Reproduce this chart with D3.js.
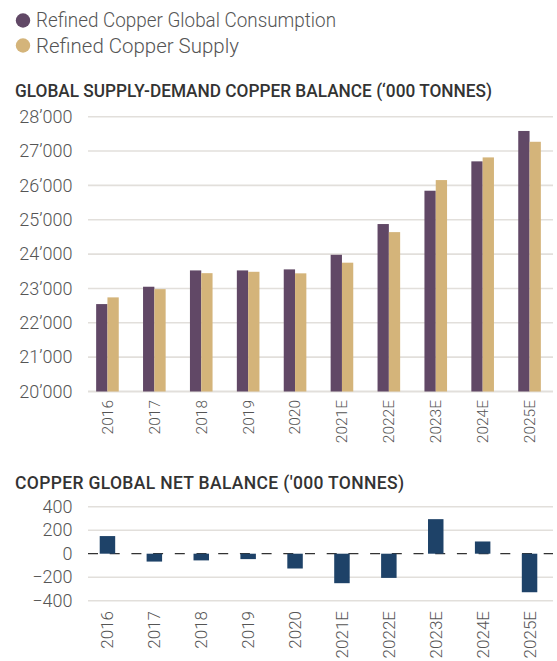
<!DOCTYPE html>
<html>
<head>
<meta charset="utf-8">
<script src="https://cdn.jsdelivr.net/npm/d3@7"></script>
<style>
  html, body { margin: 0; padding: 0; background: #ffffff; }
  svg { display: block; font-family: Roboto, "Noto Sans", sans-serif; }
</style>
</head>
<body>
<svg id="chart" width="557" height="661"></svg>
<script>
// ---- data ----
const categories = ["2016","2017","2018","2019","2020","2021E","2022E","2023E","2024E","2025E"];
const consumption = [22545, 23050, 23525, 23525, 23555, 23980, 24875, 25845, 26700, 27585];
const supply      = [22740, 22980, 23445, 23485, 23440, 23750, 24640, 26155, 26815, 27270];
const netBalance  = [150, -67, -57, -46, -126, -251, -206, 294, 104, -328];
const seriesNames = ["Refined Copper Global Consumption", "Refined Copper Supply"];
const topTicks = [20000, 21000, 22000, 23000, 24000, 25000, 26000, 27000, 28000];
const bottomTicks = [-400, -200, 0, 200, 400];
const topTitle = "GLOBAL SUPPLY-DEMAND COPPER BALANCE (\u2018000 TONNES)";
const bottomTitle = "COPPER GLOBAL NET BALANCE ('000 TONNES)";

// ---- styles ----
const colCons = "#614866", colSup = "#d4b47a", colNet = "#1e4268";
const gridCol = "#e2dfdb", labelCol = "#555555", titleCol = "#333333";

const svg = d3.select("#chart");

// ---- legend ----
const legend = svg.append("g");
[colCons, colSup].forEach((c, i) => {
  legend.append("circle").attr("cx", 23).attr("cy", 20.5 + i * 25).attr("r", 7.2).attr("fill", c);
  legend.append("text").attr("x", 36).attr("y", 27.3 + i * 25.5)
    .attr("font-size", 19.5).attr("fill", labelCol).attr("font-weight", 300)
    .attr("textLength", i === 0 ? 300 : 203).attr("lengthAdjust", "spacingAndGlyphs")
    .text(seriesNames[i]);
});

// ---- titles ----
svg.append("text").attr("x", 15).attr("y", 96.7).attr("font-size", 17.5).attr("font-weight", 500)
  .attr("fill", titleCol).attr("textLength", 477).attr("lengthAdjust", "spacingAndGlyphs").text(topTitle);
svg.append("text").attr("x", 15).attr("y", 488.5).attr("font-size", 17.5).attr("font-weight", 500)
  .attr("fill", titleCol).attr("textLength", 389).attr("lengthAdjust", "spacing").text(bottomTitle);

const fmt = v => d3.format(",")(v).replace(/,/g, "\u2019");
const gridX0 = 88, gridX1 = 553;

// ---- top chart ----
const x = d3.scaleBand().domain(categories).range([84, 553]).paddingInner(0.518).paddingOuter(0.259);
const xs = d3.scaleBand().domain([0, 1]).range([0, x.bandwidth()]);
const y = d3.scaleLinear().domain([20000, 28000]).range([391.5, 116.7]);

svg.append("g").selectAll("line").data(topTicks).join("line")
  .attr("x1", gridX0).attr("x2", gridX1)
  .attr("y1", d => y(d)).attr("y2", d => y(d))
  .attr("stroke", gridCol).attr("stroke-width", d => d === 20000 ? 2 : 1.6);

const yAxis = svg.append("g").attr("transform", `translate(${gridX0},0)`)
  .call(d3.axisLeft(y).tickValues(topTicks).tickFormat(fmt).tickSize(0).tickPadding(15.5));
yAxis.select(".domain").remove();
yAxis.selectAll("text").attr("font-size", 18).attr("fill", labelCol).attr("font-family", "Roboto").attr("font-weight", 300);

const grp = svg.append("g").selectAll("g").data(categories).join("g")
  .attr("transform", d => `translate(${x(d)},0)`);
grp.append("rect").attr("x", xs(0)).attr("width", xs.bandwidth())
  .attr("y", (d, i) => y(consumption[i])).attr("height", (d, i) => y(20000) - y(consumption[i]))
  .attr("fill", colCons);
grp.append("rect").attr("x", xs(1)).attr("width", xs.bandwidth())
  .attr("y", (d, i) => y(supply[i])).attr("height", (d, i) => y(20000) - y(supply[i]))
  .attr("fill", colSup);

const xAxis = svg.append("g").attr("transform", "translate(0,400)")
  .call(d3.axisBottom(x).tickSize(0).tickPadding(0));
xAxis.select(".domain").remove();
xAxis.selectAll("text")
  .attr("transform", "rotate(-90)").attr("text-anchor", "end")
  .attr("x", 0).attr("y", 0).attr("dx", 0).attr("dy", "0.35em")
  .attr("font-size", 15.5).attr("fill", labelCol).attr("font-family", "Roboto").attr("font-weight", 300);

// ---- bottom chart ----
const x2 = d3.scaleBand().domain(categories).range([84, 553]).paddingInner(0.67).paddingOuter(0.335);
const y2 = d3.scaleLinear().domain([-400, 400]).range([600.7, 506.7]);

svg.append("g").selectAll("line").data(bottomTicks.filter(d => d !== 0)).join("line")
  .attr("x1", gridX0).attr("x2", gridX1)
  .attr("y1", d => y2(d)).attr("y2", d => y2(d))
  .attr("stroke", gridCol).attr("stroke-width", 1.6);

svg.append("line").attr("x1", gridX0).attr("x2", gridX1)
  .attr("y1", y2(0)).attr("y2", y2(0))
  .attr("stroke", "#333").attr("stroke-width", 1.3).attr("stroke-dasharray", "10,11.7");

const yAxis2 = svg.append("g").attr("transform", `translate(${gridX0},0)`)
  .call(d3.axisLeft(y2).tickValues(bottomTicks).tickFormat(d3.format("d")).tickSize(0).tickPadding(15.5));
yAxis2.select(".domain").remove();
yAxis2.selectAll("text").attr("font-size", 18).attr("fill", labelCol).attr("font-family", "Roboto").attr("font-weight", 300);

svg.append("g").selectAll("rect").data(categories).join("rect")
  .attr("x", d => x2(d)).attr("width", x2.bandwidth())
  .attr("y", (d, i) => Math.min(y2(0), y2(netBalance[i])))
  .attr("height", (d, i) => Math.abs(y2(netBalance[i]) - y2(0)))
  .attr("fill", colNet);

const xAxis2 = svg.append("g").attr("transform", "translate(0,611)")
  .call(d3.axisBottom(x2).tickSize(0).tickPadding(0));
xAxis2.select(".domain").remove();
xAxis2.selectAll("text")
  .attr("transform", "rotate(-90)").attr("text-anchor", "end")
  .attr("x", 0).attr("y", 0).attr("dx", 0).attr("dy", "0.35em")
  .attr("font-size", 17).attr("fill", labelCol).attr("font-family", "Roboto").attr("font-weight", 300);
</script>
</body>
</html>
